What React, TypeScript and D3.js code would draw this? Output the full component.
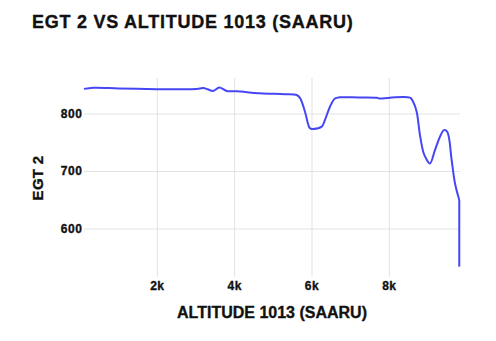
import React from "react";
import * as d3 from "d3";

const altitude = [103, 344, 1000, 1991, 2500, 3018, 3189, 3300, 3447, 3602, 3794, 4052, 4655, 5300, 5604, 5689, 5819, 5948, 6033, 6251, 6336, 6465, 6594, 6724, 7200, 7673, 7740, 8017, 8534, 8619, 8707, 8792, 8878, 8948, 9051, 9180, 9310, 9413, 9499, 9612, 9698, 9809, 9809];
const egt2 = [843.7, 845.7, 844.5, 843, 843, 843.5, 845, 843, 840, 846, 840, 839.5, 836, 834.5, 833, 828, 804, 775, 774, 778, 789.6, 812.7, 827, 829, 828.8, 828.3, 827, 828.3, 828.3, 821, 804, 763.5, 734, 723, 714, 737, 760.5, 772, 769, 720, 679.5, 650.4, 534.5];

const xTicks = [2000, 4000, 6000, 8000];
const yTicks = [600, 700, 800];

const W = 496, H = 341;
const L = 84, R = 460, T = 78, B = 277;

export default function App() {
  const x = d3.scaleLinear().domain([104, 9828]).range([L, R]);
  const y = d3.scaleLinear().domain([516.5, 862.6]).range([B, T]);
  const pts = altitude.map((a, i) => [a, egt2[i]] as [number, number]);
  const n = pts.length;
  const smooth = d3.line<[number, number]>().x(d => x(d[0])).y(d => y(d[1])).curve(d3.curveCatmullRom.alpha(0.5));
  const straight = d3.line<[number, number]>().x(d => x(d[0])).y(d => y(d[1]));
  const font = "'Liberation Sans', Arial, sans-serif";
  const heavy = { stroke: "#111", strokeWidth: 0.35 } as any;
  return (
    <svg width={W} height={H} style={{ position: "absolute", left: 0, top: 0 }} fontFamily={font}>
      <rect width={W} height={H} fill="#fff" />
      {xTicks.map(t => (
        <line key={"gx" + t} x1={x(t)} x2={x(t)} y1={T} y2={B} stroke="#e2e2e2" strokeWidth={1} />
      ))}
      {yTicks.map(t => (
        <line key={"gy" + t} x1={L} x2={R} y1={y(t)} y2={y(t)} stroke="#e2e2e2" strokeWidth={1} />
      ))}
      <path d={smooth(pts.slice(0, n - 1)) || ""} fill="none" stroke="#4646f5" strokeWidth={2} strokeLinejoin="round" />
      <path d={straight(pts.slice(n - 2)) || ""} fill="none" stroke="#4646f5" strokeWidth={2} strokeLinejoin="round" />
      {xTicks.map(t => (
        <text key={"tx" + t} x={x(t)} y={290} textAnchor="middle" fontSize={12} fontWeight="bold" fill="#111" letterSpacing={0.5} {...heavy}>{t / 1000 + "k"}</text>
      ))}
      {yTicks.map(t => (
        <text key={"ty" + t} x={82.5} y={y(t) + 4} textAnchor="end" fontSize={12} fontWeight="bold" fill="#111" letterSpacing={0.6} {...heavy}>{t}</text>
      ))}
      <text x={32} y={28.3} fontSize={18} fontWeight="bold" fill="#111" letterSpacing={0.75} {...heavy}>EGT 2 VS ALTITUDE 1013 (SAARU)</text>
      <text x={(L + R) / 2} y={318.3} textAnchor="middle" fontSize={16} fontWeight="bold" fill="#111" {...heavy}>ALTITUDE 1013 (SAARU)</text>
      <text transform={`translate(42.5,178) rotate(-90)`} textAnchor="middle" fontSize={15} fontWeight="bold" fill="#111" letterSpacing={0.3} {...heavy}>EGT 2</text>
    </svg>
  );
}
